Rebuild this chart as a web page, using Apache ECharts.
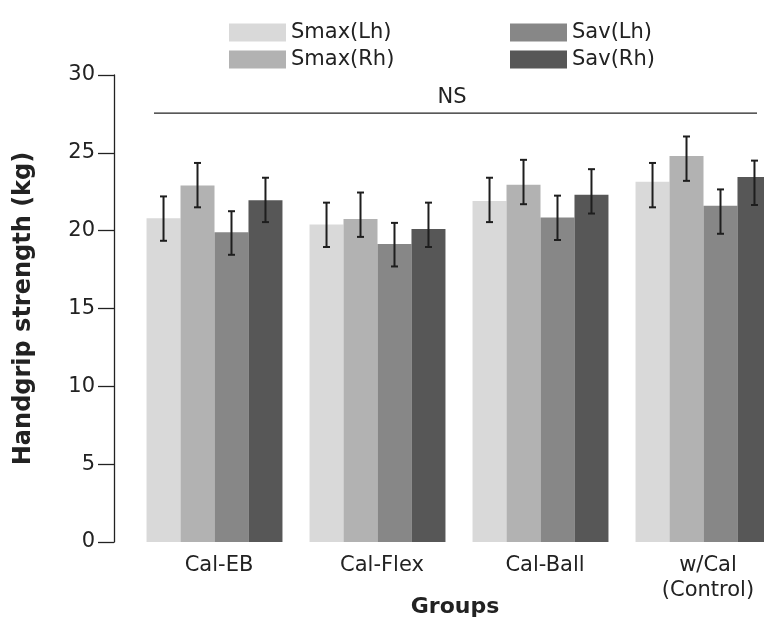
<!DOCTYPE html>
<html>
<head>
<meta charset="utf-8">
<script src="https://cdn.jsdelivr.net/npm/echarts@6/dist/echarts.min.js"></script>
<style>
  html, body { margin: 0; padding: 0; background: #fff; }
  #chart { width: 764px; height: 622px; }
</style>
</head>
<body>
<div id="chart"></div>
<script>
// groups on the x axis
const groups = ["Cal-EB", "Cal-Flex", "Cal-Ball", "w/Cal\n(Control)"];
const seriesNames = ["Smax(Lh)", "Smax(Rh)", "Sav(Lh)", "Sav(Rh)"];
const seriesColors = ["#d9d9d9", "#b2b2b2", "#878787", "#575757"];

// bar heights (kg)
const smaxLh = [20.8, 20.4, 21.9, 23.15];
const smaxRh = [22.9, 20.75, 22.95, 24.8];
const savLh = [19.9, 19.15, 20.85, 21.6];
const savRh = [21.95, 20.1, 22.3, 23.45];

// error bar ends
const smaxLhLow = [19.35, 18.95, 20.55, 21.5];
const smaxLhHigh = [22.2, 21.8, 23.4, 24.35];
const smaxRhLow = [21.5, 19.6, 21.7, 23.2];
const smaxRhHigh = [24.35, 22.45, 24.55, 26.05];
const savLhLow = [18.45, 17.7, 19.4, 19.8];
const savLhHigh = [21.25, 20.5, 22.25, 22.65];
const savRhLow = [20.55, 18.95, 21.1, 21.65];
const savRhHigh = [23.4, 21.8, 23.95, 24.5];

const yTicks = [0, 5, 10, 15, 20, 25, 30];
const nsLevel = 27.55;

const values = [smaxLh, smaxRh, savLh, savRh];
const lows = [smaxLhLow, smaxRhLow, savLhLow, savRhLow];
const highs = [smaxLhHigh, smaxRhHigh, savLhHigh, savRhHigh];

const FONT = "DejaVu Sans";
const catGap = 0.166;

const chart = echarts.init(document.getElementById("chart"));

const barSeries = seriesNames.map((name, i) => ({
  name: name,
  type: "bar",
  data: values[i],
  barGap: "0%",
  barCategoryGap: (catGap * 100) + "%",
  itemStyle: { color: seriesColors[i] },
  emphasis: { disabled: true },
  silent: true
}));

const errSeries = seriesNames.map((name, i) => ({
  type: "custom",
  name: name + " err",
  silent: true,
  z: 5,
  encode: { x: 0, y: [1, 2] },
  data: groups.map((g, c) => [c, lows[i][c], highs[i][c]]),
  renderItem: function (params, api) {
    const lo = api.coord([api.value(0), api.value(1)]);
    const hi = api.coord([api.value(0), api.value(2)]);
    const band = api.size([1, 0])[0];
    const bw = band * (1 - catGap) / 4;
    const x = lo[0] + (i - 1.5) * bw;
    const cap = 3.5;
    const st = { stroke: "#1e1e1e", lineWidth: 2 };
    return {
      type: "group",
      children: [
        { type: "line", shape: { x1: x, y1: lo[1], x2: x, y2: hi[1] }, style: st },
        { type: "line", shape: { x1: x - cap, y1: lo[1], x2: x + cap, y2: lo[1] }, style: st },
        { type: "line", shape: { x1: x - cap, y1: hi[1], x2: x + cap, y2: hi[1] }, style: st }
      ]
    };
  }
}));

const legendCommon = {
  orient: "vertical",
  top: 17,
  itemWidth: 57,
  itemHeight: 18,
  itemGap: 6,
  icon: "rect",
  selectedMode: false,
  textStyle: { fontFamily: FONT, fontSize: 21, color: "#222", lineHeight: 21 }
};

const option = {
  animation: false,
  backgroundColor: "#fff",
  legend: [
    Object.assign({}, legendCommon, { left: 224, data: [seriesNames[0], seriesNames[1]] }),
    Object.assign({}, legendCommon, { left: 505, data: [seriesNames[2], seriesNames[3]] })
  ],
  grid: { left: 133, right: -21, top: 75, bottom: 80, outerBoundsMode: "none", containLabel: false },
  xAxis: {
    type: "category",
    data: groups,
    axisLine: { show: false },
    axisTick: { show: false },
    axisLabel: {
      fontFamily: FONT, fontSize: 21, color: "#222", margin: 11, lineHeight: 25,
      padding: [0, 0, 0, 9]
    },
    name: "Groups",
    nameLocation: "middle",
    nameGap: 54,
    nameMoveOverlap: false,
    nameTextStyle: { fontFamily: FONT, fontSize: 22, fontWeight: "bold", color: "#222", padding: [0, 8, 0, 0] }
  },
  yAxis: {
    type: "value",
    min: yTicks[0],
    max: yTicks[yTicks.length - 1],
    interval: 5,
    offset: 19,
    splitLine: { show: false },
    axisLine: { show: true, lineStyle: { color: "#222", width: 1.3 } },
    axisTick: { show: true, length: 16, lineStyle: { color: "#222", width: 1.3 } },
    axisLabel: { fontFamily: FONT, fontSize: 21, color: "#222", margin: 19 },
    name: "Handgrip strength (kg)",
    nameLocation: "middle",
    nameGap: 78,
    nameMoveOverlap: false,
    nameTextStyle: { fontFamily: FONT, fontSize: 24, fontWeight: "bold", color: "#222" }
  },
  series: barSeries.concat(errSeries)
};

chart.setOption(option);

// NS annotation line above the groups
const nsY = chart.convertToPixel({ yAxisIndex: 0 }, nsLevel);
chart.setOption({
  graphic: [
    {
      type: "line",
      shape: { x1: 154, y1: nsY, x2: 757, y2: nsY },
      style: { stroke: "#222", lineWidth: 1.3 },
      silent: true
    },
    {
      type: "text",
      x: 452,
      y: nsY - 5,
      style: {
        text: "NS", fontFamily: FONT, fontSize: 21, fill: "#222",
        align: "center", verticalAlign: "bottom"
      },
      silent: true
    }
  ]
});
</script>
</body>
</html>
